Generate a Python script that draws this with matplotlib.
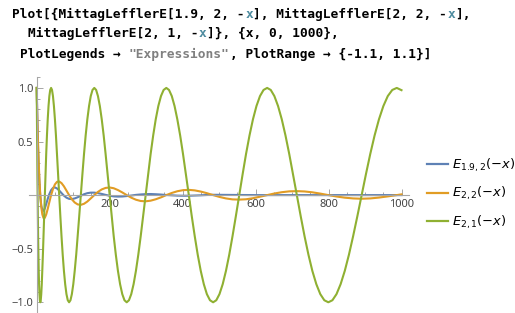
import numpy as np
import matplotlib.pyplot as plt
from matplotlib.ticker import FixedLocator, FixedFormatter

# %% Data

# coarse grid, used by E_{2,2} and E_{1.9,2}
x_vals = [0.0, 0.154, 0.617, 1.388, 2.467, 3.855, 5.552, 7.556, 9.870, 12.49,
          15.42, 18.66, 22.21, 26.06, 30.23, 34.70, 39.48, 44.57, 49.97, 55.67,
          61.69, 68.01, 74.64, 81.58, 88.83, 96.38, 104.2, 112.4, 120.9, 129.7,
          138.8, 148.2, 157.9, 167.9, 178.3, 188.9, 199.9, 211.1, 222.7, 234.6,
          246.7, 259.2, 272.0, 285.1, 298.6, 312.3, 326.3, 340.7, 355.3, 370.3,
          385.5, 401.1, 417.0, 433.2, 449.7, 466.5, 483.6, 501.0, 518.8, 536.8,
          555.2, 573.8, 592.8, 612.1, 631.7, 651.6, 671.8, 692.3, 713.1, 734.2,
          755.6, 777.4, 799.4, 821.8, 844.5, 867.4, 890.7, 914.3, 938.2, 962.4,
          987.0, 1000.0]

# finer grid for the big oscillation E_{2,1}
x_fine = [0.0, 0.0386, 0.154, 0.347, 0.617, 0.964, 1.388, 1.889, 2.467, 3.123,
          3.855, 4.665, 5.552, 6.515, 7.556, 8.674, 9.870, 11.14, 12.49, 13.92,
          15.42, 17.00, 18.66, 20.40, 22.21, 24.10, 26.06, 28.11, 30.23, 32.42,
          34.70, 37.05, 39.48, 41.98, 44.57, 47.23, 49.97, 52.78, 55.67, 58.64,
          61.69, 64.81, 68.01, 71.29, 74.64, 78.07, 81.58, 85.16, 88.83, 92.57,
          96.38, 100.3, 104.2, 108.3, 112.4, 116.6, 120.9, 125.3, 129.7, 134.2,
          138.8, 143.5, 148.2, 153.0, 157.9, 162.9, 167.9, 173.1, 178.3, 183.6,
          188.9, 194.3, 199.9, 205.5, 211.1, 216.9, 222.7, 228.6, 234.6, 240.6,
          246.7, 252.9, 259.2, 265.6, 272.0, 278.5, 285.1, 291.8, 298.6, 305.4,
          312.3, 319.3, 326.3, 333.4, 340.7, 347.9, 355.3, 362.7, 370.3, 377.9,
          385.5, 393.3, 401.1, 409.0, 417.0, 425.0, 433.2, 441.4, 449.7, 458.1,
          466.5, 475.0, 483.6, 492.3, 501.0, 509.9, 518.8, 527.8, 536.8, 546.0,
          555.2, 564.5, 573.8, 583.3, 592.8, 602.4, 612.1, 621.8, 631.7, 641.6,
          651.5, 661.6, 671.8, 682.0, 692.3, 702.6, 713.1, 723.6, 734.2, 744.9,
          755.6, 766.5, 777.4, 788.4, 799.4, 810.6, 821.8, 833.1, 844.5, 855.9,
          867.4, 879.1, 890.7, 902.5, 914.3, 926.2, 938.2, 950.3, 962.4, 974.7,
          987.0, 1000.0]

# E_{2,1}(-x)
e21 = [1.0, 0.981, 0.924, 0.831, 0.707, 0.556, 0.383, 0.195, 0.0, -0.195,
       -0.383, -0.556, -0.707, -0.831, -0.924, -0.981, -1.0, -0.981, -0.924, -0.831,
       -0.707, -0.556, -0.383, -0.195, 0.0, 0.195, 0.383, 0.556, 0.707, 0.831,
       0.924, 0.981, 1.0, 0.981, 0.924, 0.831, 0.707, 0.556, 0.383, 0.195,
       0.0, -0.195, -0.383, -0.556, -0.707, -0.831, -0.924, -0.981, -1.0, -0.981,
       -0.924, -0.831, -0.707, -0.556, -0.383, -0.195, 0.0, 0.195, 0.383, 0.556,
       0.707, 0.831, 0.924, 0.981, 1.0, 0.981, 0.924, 0.831, 0.707, 0.556,
       0.383, 0.195, 0.0, -0.195, -0.383, -0.556, -0.707, -0.831, -0.924, -0.981,
       -1.0, -0.981, -0.924, -0.831, -0.707, -0.556, -0.383, -0.195, 0.0, 0.195,
       0.383, 0.556, 0.707, 0.831, 0.924, 0.981, 1.0, 0.981, 0.924, 0.831,
       0.707, 0.556, 0.383, 0.195, 0.0, -0.195, -0.383, -0.556, -0.707, -0.831,
       -0.924, -0.981, -1.0, -0.981, -0.924, -0.831, -0.707, -0.556, -0.383, -0.195,
       0.0, 0.195, 0.383, 0.556, 0.707, 0.831, 0.924, 0.981, 1.0, 0.981,
       0.924, 0.831, 0.707, 0.556, 0.383, 0.195, 0.0, -0.195, -0.383, -0.556,
       -0.707, -0.831, -0.924, -0.981, -1.0, -0.981, -0.924, -0.831, -0.707, -0.556,
       -0.383, -0.195, 0.0, 0.195, 0.383, 0.556, 0.707, 0.831, 0.924, 0.981,
       1.0, 0.979]

# E_{2,2}(-x)
e22 = [1.0, 0.974, 0.900, 0.784, 0.637, 0.470, 0.300, 0.139, 0.0, -0.108,
       -0.180, -0.214, -0.212, -0.181, -0.129, -0.065, 0.0, 0.057, 0.100, 0.124,
       0.127, 0.112, 0.082, 0.042, 0.0, -0.039, -0.069, -0.087, -0.091, -0.081,
       -0.060, -0.031, 0.0, 0.030, 0.053, 0.067, 0.071, 0.064, 0.047, 0.025,
       0.0, -0.024, -0.043, -0.055, -0.058, -0.052, -0.039, -0.021, 0.0, 0.020,
       0.036, 0.046, 0.049, 0.044, 0.033, 0.018, 0.0, -0.017, -0.031, -0.040,
       -0.042, -0.039, -0.029, -0.015, 0.0, 0.015, 0.027, 0.035, 0.037, 0.034,
       0.026, 0.014, 0.0, -0.013, -0.024, -0.031, -0.034, -0.031, -0.023, -0.012,
       0.0, 0.007]

# E_{1.9,2}(-x), flat after ~480
x_blue = x_vals[:57] + [600.0, 800.0, 1000.0]
e192 = [1.0, 0.971, 0.888, 0.760, 0.600, 0.427, 0.256, 0.105, -0.015, -0.097,
        -0.140, -0.147, -0.125, -0.084, -0.035, 0.010, 0.046, 0.067, 0.072, 0.062,
        0.043, 0.019, -0.005, -0.024, -0.035, -0.037, -0.031, -0.020, -0.006, 0.008,
        0.018, 0.023, 0.023, 0.018, 0.011, 0.002, -0.006, -0.012, -0.014, -0.013,
        -0.009, -0.004, 0.002, 0.006, 0.009, 0.010, 0.008, 0.005, 0.001, -0.002,
        -0.005, -0.006, -0.006, -0.004, -0.002, 0.001, 0.003,
        0.0, 0.0, 0.0]

labels = [r'$E_{1.9,2}(-x)$', r'$E_{2,2}(-x)$', r'$E_{2,1}(-x)$']
colors = ['#5e81b5', '#e19c24', '#8fb032']

xticks = [200, 400, 600, 800, 1000]
yticks = [-1.0, -0.5, 0.5, 1.0]
ytick_labels = ['\u22121.0', '\u22120.5', '0.5', '1.0']

W, H = 515, 313
fig = plt.figure(figsize=(W / 100, H / 100), dpi=100)

# %% Code header

xcol = '#4f8ca0'
scol = '#808080'
code_lines = [
    (12, 18, [("Plot[{MittagLefflerE[1.9, 2, -", 'k'), ("x", xcol),
              ("], MittagLefflerE[2, 2, -", 'k'), ("x", xcol), ("],", 'k')]),
    (28, 37, [("MittagLefflerE[2, 1, -", 'k'), ("x", xcol),
              ("]}, {x, 0, 1000},", 'k')]),
    (20, 58, [("PlotLegends \u2192 ", 'k'), ('"Expressions"', scol),
              (", PlotRange \u2192 {-1.1, 1.1}]", 'k')]),
]
fs_code = 9.3
adv = 0.602 * fs_code * 100 / 72
for x0, yb, parts in code_lines:
    i = 0
    for txt, col in parts:
        fig.text((x0 + i * adv) / W, 1 - yb / H, txt, color=col,
                 fontsize=fs_code, family='DejaVu Sans Mono', weight='bold',
                 va='baseline', ha='left')
        i += len(txt)

# %% Plot

x_px0, x_px1 = 29.4, 408.8
ax = fig.add_axes([x_px0 / W, 0, (x_px1 - x_px0) / W, 235.8 / H])

ax.plot(x_blue, e192, color=colors[0], lw=1.5, label=labels[0])
ax.plot(x_vals, e22, color=colors[1], lw=1.5, label=labels[1])
ax.plot(x_fine, e21, color=colors[2], lw=1.5, label=labels[2])

ax.set_xlim(-20, 1020)
ax.set_ylim(-1.1, 1.1)
ax.patch.set_visible(False)

for s in ['top', 'right']:
    ax.spines[s].set_visible(False)
ax.spines['left'].set_position(('data', 0))
ax.spines['bottom'].set_position(('data', 0))
for s in ['left', 'bottom']:
    ax.spines[s].set_color('#a6a6a6')
    ax.spines[s].set_linewidth(0.8)

ax.xaxis.set_major_locator(FixedLocator(xticks))
ax.xaxis.set_major_formatter(FixedFormatter([str(t) for t in xticks]))
ax.xaxis.set_minor_locator(FixedLocator([t for t in range(50, 1001, 50) if t % 200]))
ax.yaxis.set_major_locator(FixedLocator(yticks))
ax.yaxis.set_major_formatter(FixedFormatter(ytick_labels))
ax.yaxis.set_minor_locator(FixedLocator([v / 10 for v in range(-11, 12) if v % 5]))

ax.tick_params(which='both', direction='in', color='#a6a6a6', width=0.7,
               labelsize=8, labelcolor='#444444')
ax.tick_params(which='major', length=4)
ax.tick_params(which='minor', length=2.3)
ax.tick_params(axis='x', pad=2.5)
ax.tick_params(axis='y', pad=2.5)
for lab in ax.get_xticklabels() + ax.get_yticklabels():
    lab.set_family('Noto Sans')

leg = ax.legend(loc='center left', bbox_to_anchor=(427 / W, 1 - 193.5 / H),
                bbox_transform=fig.transFigure, frameon=False, fontsize=9.4,
                borderpad=0, borderaxespad=0, handlelength=1.6,
                handletextpad=0.3, labelspacing=0.85)
for ln in leg.get_lines():
    ln.set_linewidth(1.6)

fig.savefig('out.png', dpi=100)
